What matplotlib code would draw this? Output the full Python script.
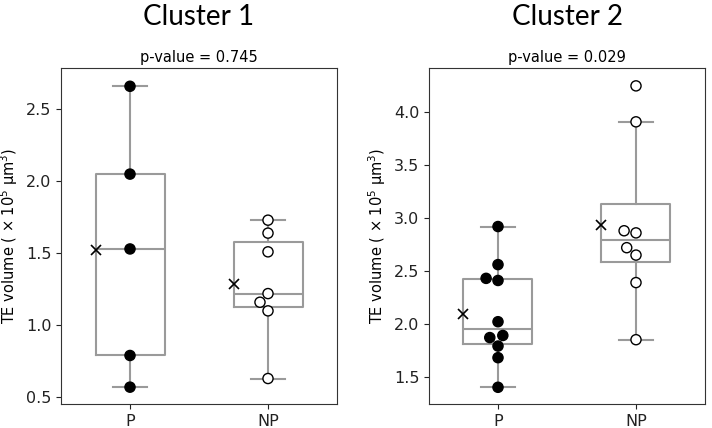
"""TE volume box/swarm plots for two clusters"""
import numpy as np
import pandas as pd
import matplotlib
matplotlib.use("Agg")
import matplotlib.pyplot as plt
import seaborn as sns

groups = ["P", "NP"]

# cluster 1 values (x 10^5 um^3)
c1_p = [2.66, 2.05, 1.53, 0.79, 0.57]
c1_np = [1.73, 1.64, 1.51, 1.22, 1.16, 1.10, 0.63]

# cluster 2 values
c2_p = [2.92, 2.56, 2.43, 2.41, 2.02, 1.89, 1.87, 1.79, 1.68, 1.40]
c2_np = [4.25, 3.91, 2.88, 2.86, 2.72, 2.65, 2.39, 1.85]

titles = ["Cluster 1", "Cluster 2"]
pvalues = [0.745, 0.029]
ylims = [(0.453, 2.787), (1.242, 4.419)]
yticks = [[0.5, 1.0, 1.5, 2.0, 2.5], [1.5, 2.0, 2.5, 3.0, 3.5, 4.0]]

fig = plt.figure(figsize=(7.12, 4.28), dpi=100)
W, H = 712, 428
positions = [[61, 24, 276, 336], [429, 24, 276, 336]]

box_gray = "#9a9a9a"

for i, (p_vals, np_vals) in enumerate([(c1_p, c1_np), (c2_p, c2_np)]):
    l, b, w, h = positions[i]
    ax = fig.add_axes([l / W, b / H, w / W, h / H])
    data = [p_vals, np_vals]

    ax.boxplot(data, positions=[0, 1], widths=0.5, whis=1.5, showfliers=False,
               patch_artist=False,
               boxprops=dict(color=box_gray, linewidth=1.5),
               whiskerprops=dict(color=box_gray, linewidth=1.5),
               capprops=dict(color=box_gray, linewidth=1.5),
               medianprops=dict(color=box_gray, linewidth=1.5))

    df = pd.DataFrame({
        "group": ["P"] * len(p_vals) + ["NP"] * len(np_vals),
        "value": p_vals + np_vals,
    })
    sns.swarmplot(data=df, x="group", y="value", hue="group", order=groups,
                  hue_order=groups, palette=["black", "white"],
                  edgecolor="black", linewidth=1, size=7.3, legend=False,
                  ax=ax, zorder=3)

    # mean markers at the left edge of each box
    for pos, vals in enumerate(data):
        ax.plot(pos - 0.25, np.mean(vals), "x", color="black",
                markersize=7, markeredgewidth=1.2, zorder=4)

    ax.set_xlim(-0.5, 1.5)
    ax.set_ylim(*ylims[i])
    ax.set_yticks(yticks[i])
    ax.set_xticks([0, 1])
    ax.set_xticklabels(groups)
    ax.tick_params(labelsize=11.5, colors="#222222")
    ax.set_xlabel("")
    ax.set_ylabel("TE volume ( × 10$^5$ μm$^3$)", fontsize=10.5)
    ax.set_title(f"p-value = {pvalues[i]:.3f}", fontsize=10.5, pad=4)
    for s in ax.spines.values():
        s.set_color("#333333")

    fig.text((l + w / 2) / W, 1 - 17 / H, titles[i], fontsize=20,
             family="Lato", ha="center", va="center")

fig.savefig("out.png", dpi=100)
